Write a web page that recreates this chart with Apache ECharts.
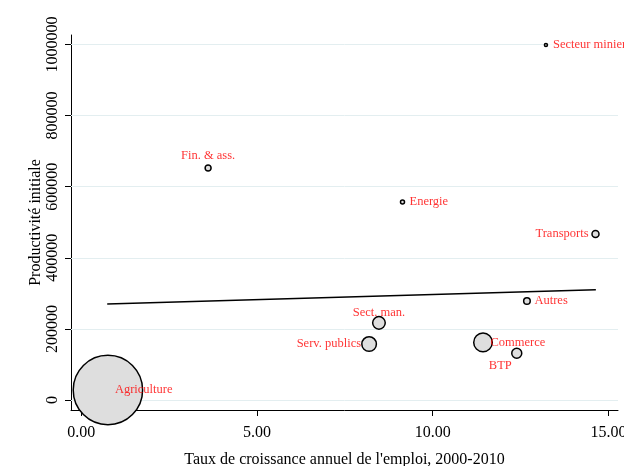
<!DOCTYPE html>
<html>
<head>
<meta charset="utf-8">
<script src="https://cdn.jsdelivr.net/npm/echarts@6/dist/echarts.min.js"></script>
<style>
html,body{margin:0;padding:0;background:#fff;}
#c{width:624px;height:466px;}
</style>
</head>
<body>
<div id="c"></div>
<script>
// Data
var secteurs = ['Secteur minier','Fin. & ass.','Energie','Transports','Autres','Sect. man.','Serv. publics','Commerce','BTP','Agriculture'];
var croissance = [13.22, 3.61, 9.14, 14.63, 12.68, 8.47, 8.19, 11.43, 12.39, 0.76];
var productivite = [998600, 652600, 557000, 467000, 278500, 217000, 157500, 162000, 131500, 28000];
var poids = [0.16, 0.62, 0.28, 0.85, 0.75, 2.75, 3.69, 5.99, 1.73, 83.4];
var ajustX = [0.74, 14.64];
var ajustY = [270000, 310300];
var xTicks = [0, 5, 10, 15];
var yTicks = [0, 200000, 400000, 600000, 800000, 1000000];

var FONT = 'Liberation Serif';
var labelPlacement = {
  'Secteur minier': {position: 'right', distance: 2.5, bg: true},
  'Fin. & ass.': {position: 'top', distance: 5},
  'Energie': {position: 'right', distance: 6.5},
  'Transports': {position: 'left', distance: 6.5},
  'Autres': {position: 'right', distance: 7},
  'Sect. man.': {position: 'top', distance: 3},
  'Serv. publics': {position: 'left', distance: 7.5},
  'Commerce': {position: 'right', distance: 7},
  'BTP': {position: 'inside', offset: [-16.5, 12.5]},
  'Agriculture': {position: 'right', distance: 6.5}
};

var points = secteurs.map(function (s, i) {
  return {name: s, value: [croissance[i], productivite[i]], symbolSize: 7.6 * Math.sqrt(poids[i])};
});
var labels = secteurs.map(function (s, i) {
  var p = labelPlacement[s];
  var lab = {show: true, formatter: s, color: '#ff0000', fontFamily: FONT, fontSize: 12.5, position: p.position};
  if (p.distance !== undefined) lab.distance = p.distance;
  if (p.offset) lab.offset = p.offset;
  if (p.bg) { lab.backgroundColor = '#ffffff'; lab.padding = [1, 0, 1, 4]; }
  return {name: s, value: [croissance[i], productivite[i]], label: lab};
});

var chart = echarts.init(document.getElementById('c'));
chart.setOption({
  animation: false,
  backgroundColor: '#ffffff',
  grid: {left: 71, right: 6, top: 35, bottom: 56, outerBoundsMode: 'none', containLabel: false},
  xAxis: {
    type: 'value', min: -0.29, max: 15.27,
    name: "Taux de croissance annuel de l'emploi, 2000-2010",
    nameLocation: 'middle', nameGap: 42, nameMoveOverlap: false,
    nameTextStyle: {fontFamily: FONT, fontSize: 16, color: '#000'},
    axisLine: {show: true, onZero: false, lineStyle: {color: '#000', width: 1}},
    axisTick: {show: true, length: 6, customValues: xTicks, lineStyle: {color: '#000'}},
    axisLabel: {customValues: xTicks, margin: 15, fontFamily: FONT, fontSize: 16, color: '#000',
      formatter: function (v) { return v.toFixed(2); }},
    splitLine: {show: false}
  },
  yAxis: {
    type: 'value', min: -28100, max: 1026700,
    name: 'Productivité initiale',
    nameLocation: 'middle', nameGap: 27, nameRotate: 90, nameMoveOverlap: false,
    nameTextStyle: {fontFamily: FONT, fontSize: 16, color: '#000'},
    axisLine: {show: true, onZero: false, lineStyle: {color: '#000', width: 1}},
    axisTick: {show: true, length: 6, customValues: yTicks, lineStyle: {color: '#000'}},
    axisLabel: {customValues: yTicks, rotate: 90, margin: 10, fontFamily: FONT, fontSize: 16, color: '#000',
      formatter: function (v) { return String(v); }},
    splitLine: {show: false}
  },
  series: [
    {
      type: 'line', data: [], silent: true,
      markLine: {
        silent: true, symbol: 'none', label: {show: false}, z: 1,
        lineStyle: {color: '#e3eef0', width: 1, type: 'solid'},
        data: yTicks.map(function (v) { return {yAxis: v}; })
      },
      z: 1
    },
    {
      type: 'line', symbol: 'none', silent: true,
      data: ajustX.map(function (x, i) { return [x, ajustY[i]]; }),
      lineStyle: {color: '#000', width: 1.6},
      z: 2
    },
    {
      type: 'scatter', data: points, symbol: 'circle',
      itemStyle: {color: '#dedede', borderColor: '#000', borderWidth: 1.5, opacity: 1},
      z: 3
    },
    {
      type: 'scatter', data: labels, symbolSize: 1,
      itemStyle: {color: 'rgba(0,0,0,0)'},
      z: 4
    }
  ]
});
</script>
</body>
</html>
